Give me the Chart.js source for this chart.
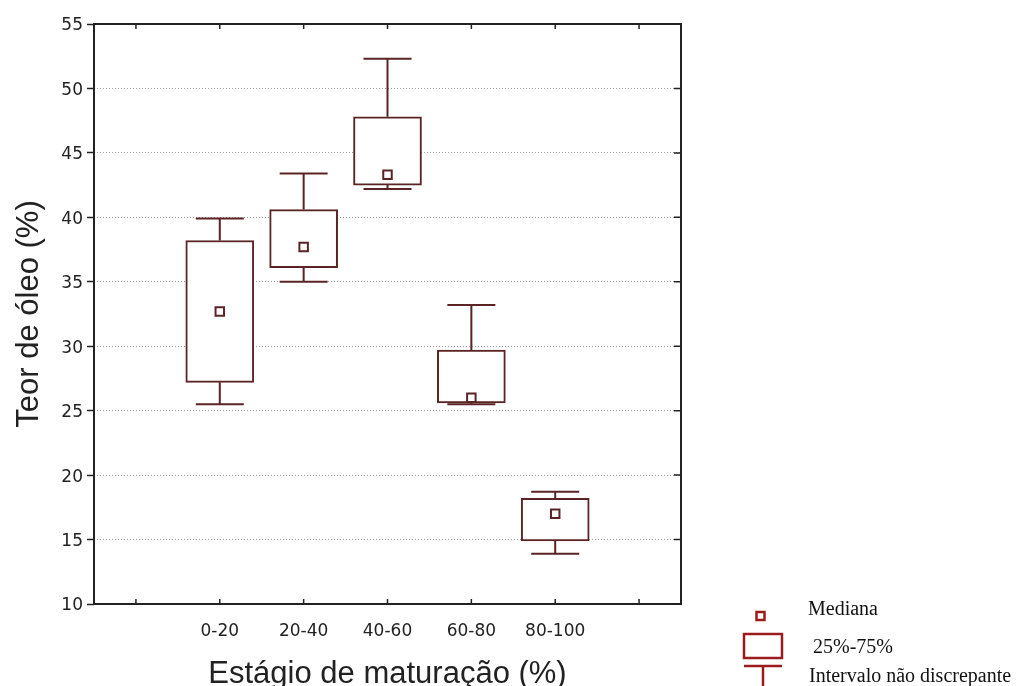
<!DOCTYPE html>
<html lang="pt-BR">
<head>
<meta charset="utf-8">
<title>Teor de óleo por estágio de maturação</title>
<script src="https://cdn.jsdelivr.net/npm/chart.js@4.4.1/dist/chart.umd.min.js"></script>
<style>
  html, body { margin: 0; padding: 0; background: #fff; overflow: hidden; }
  #wrap { position: relative; width: 1018px; height: 686px; }
  canvas { display: block; }
</style>
</head>
<body>
<div id="wrap"><canvas id="grafico-box" width="1018" height="686"></canvas></div>
<script>
// categorias (as pontas vazias existem no original)
const categorias = ['', '0-20', '20-40', '40-60', '60-80', '80-100', ''];
const minimos    = [null, 25.5, 35.0, 42.2, 25.5, 13.9, null];
const quartil1   = [null, 27.2, 36.1, 42.5, 25.6, 14.9, null];
const medianas   = [null, 32.7, 37.7, 43.3, 26.0, 17.0, null];
const quartil3   = [null, 38.2, 40.6, 47.8, 29.7, 18.2, null];
const maximos    = [null, 39.9, 43.4, 52.3, 33.2, 18.7, null];
const ticksY     = [10, 15, 20, 25, 30, 35, 40, 45, 50, 55];

const COR_BOX     = '#5b2424';
const COR_LEGENDA = '#9b1c1c';
const FONTE_SANS  = 'Liberation Sans, Arial, sans-serif';

const caixas = quartil1.map((v, i) => v == null ? null : [v, quartil3[i]]);

const pluginMoldura = {
  id: 'moldura',
  beforeDatasetsDraw(chart) {
    const { ctx: c, scales: { x, y } } = chart;
    c.save();
    c.strokeStyle = COR_BOX;
    c.lineWidth = 2;
    categorias.forEach((_, i) => {
      if (minimos[i] == null) return;
      const px = x.getPixelForValue(i);
      const yMin = y.getPixelForValue(minimos[i]);
      const yMax = y.getPixelForValue(maximos[i]);
      const yQ1 = y.getPixelForValue(quartil1[i]);
      const yQ3 = y.getPixelForValue(quartil3[i]);
      c.beginPath();
      c.moveTo(px, yQ3); c.lineTo(px, yMax);
      c.moveTo(px, yQ1); c.lineTo(px, yMin);
      c.moveTo(px - 24, yMax); c.lineTo(px + 24, yMax);
      c.moveTo(px - 24, yMin); c.lineTo(px + 24, yMin);
      c.stroke();
    });
    c.restore();
  },
  afterDraw(chart) {
    const { ctx: c, chartArea: { left, right, top, bottom }, scales: { x, y } } = chart;
    c.save();
    // moldura e ticks internos
    c.strokeStyle = '#222';
    c.lineWidth = 2;
    c.strokeRect(left, top, right - left, bottom - top);
    c.lineWidth = 1.5;
    c.beginPath();
    categorias.forEach((_, i) => {
      const px = x.getPixelForTick(i);
      c.moveTo(px, top); c.lineTo(px, top + 5);
      c.moveTo(px, bottom); c.lineTo(px, bottom - 5);
    });
    ticksY.forEach(v => {
      const py = y.getPixelForValue(v);
      c.moveTo(right, py); c.lineTo(right - 7, py);
    });
    c.stroke();

    // títulos dos eixos
    c.fillStyle = '#222';
    c.font = '31px ' + FONTE_SANS;
    c.textAlign = 'center';
    c.textBaseline = 'alphabetic';
    c.fillText('Estágio de maturação (%)', (left + right) / 2, 683);
    c.translate(29, (top + bottom) / 2);
    c.rotate(-Math.PI / 2);
    c.textBaseline = 'middle';
    c.fillText('Teor de óleo (%)', 0, 0);
    c.restore();

    // legenda
    c.save();
    c.strokeStyle = COR_LEGENDA;
    c.lineWidth = 2.5;
    c.strokeRect(756.5, 612, 8, 8);
    c.strokeRect(744, 634, 38, 24);
    c.beginPath();
    c.moveTo(744, 666); c.lineTo(782, 666);
    c.moveTo(763, 666); c.lineTo(763, 686);
    c.stroke();
    c.fillStyle = '#111';
    c.font = '20px Liberation Serif, Times New Roman, serif';
    c.textAlign = 'left';
    c.textBaseline = 'alphabetic';
    c.fillText('Mediana', 808, 615);
    c.fillText('25%-75%', 813, 653);
    c.fillText('Intervalo não discrepante', 809, 682);
    c.restore();
  }
};

const ctx = document.getElementById('grafico-box').getContext('2d');
new Chart(ctx, {
  data: {
    labels: categorias,
    datasets: [
      {
        type: 'line',
        label: 'Mediana',
        data: medianas,
        showLine: false,
        pointStyle: 'rect',
        pointRadius: 6,
        pointBorderWidth: 2,
        pointBackgroundColor: '#fff',
        pointBorderColor: COR_BOX,
        order: 0
      },
      {
        type: 'bar',
        label: '25%-75%',
        data: caixas,
        backgroundColor: '#fff',
        borderColor: COR_BOX,
        borderWidth: 2,
        borderSkipped: false,
        barThickness: 68,
        order: 1
      }
    ]
  },
  options: {
    responsive: false,
    animation: false,
    devicePixelRatio: 1,
    layout: { padding: { left: 0, right: 337, top: 24, bottom: 0 } },
    plugins: {
      legend: { display: false },
      tooltip: { enabled: false }
    },
    scales: {
      x: {
        type: 'category',
        offset: true,
        grid: { display: false },
        border: { display: false },
        ticks: {
          autoSkip: false,
          maxRotation: 0,
          padding: 9,
          color: '#222',
          font: { family: 'DejaVu Sans', size: 17 }
        },
        afterFit(s) { s.height = 82; }
      },
      y: {
        min: 10,
        max: 55,
        border: { display: false, dash: [1, 2] },
        grid: {
          color: '#9a9a9a',
          lineWidth: 1,
          tickColor: '#222',
          tickWidth: 1.5,
          tickLength: 7,
          tickBorderDash: []
        },
        ticks: {
          stepSize: 5,
          padding: 4,
          labelOffset: 2,
          color: '#222',
          font: { family: 'DejaVu Sans', size: 17 }
        },
        afterFit(s) { s.width = 94; }
      }
    }
  },
  plugins: [pluginMoldura]
});
</script>
</body>
</html>
